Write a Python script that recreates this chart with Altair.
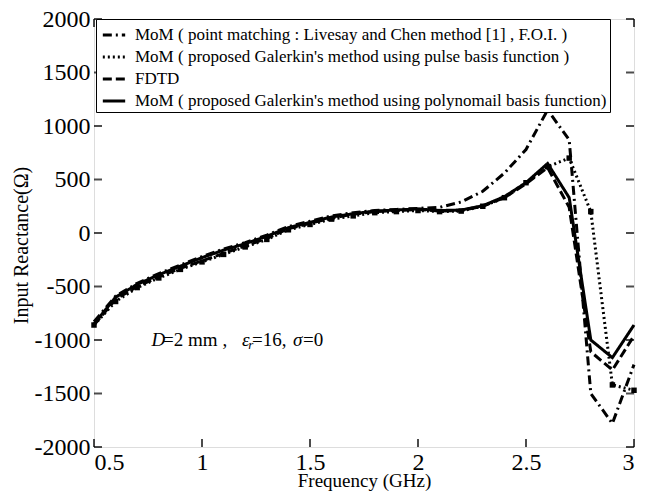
import altair as alt
import pandas as pd

freq = [0.5, 0.6, 0.7, 0.8, 0.9, 1.0, 1.1, 1.2, 1.3, 1.4, 1.5, 1.6, 1.7,
        1.8, 1.9, 2.0, 2.1, 2.2, 2.3, 2.4, 2.5, 2.6, 2.7, 2.8, 2.9, 3.0]
livesay = [-830, -590, -470, -380, -300, -220, -150, -90, -20, 60, 110, 160, 190,
           210, 220, 230, 240, 290, 390, 560, 780, 1150, 870, -1500, -1780, -1230]
pulse = [-860, -640, -510, -420, -340, -270, -200, -130, -60, 30, 80, 130, 160,
         190, 200, 210, 200, 205, 250, 330, 470, 620, 700, 200, -1420, -1470]
fdtd = [-860, -620, -500, -410, -330, -260, -190, -120, -50, 40, 90, 140, 175,
        200, 210, 220, 205, 210, 250, 330, 460, 610, 240, -1110, -1280, -960]
poly = [-850, -600, -480, -390, -310, -230, -160, -100, -30, 50, 100, 150, 180,
        205, 215, 225, 210, 215, 255, 340, 470, 650, 330, -1000, -1165, -860]

names = [
    "MoM ( point matching : Livesay and Chen method [1] , F.O.I. )",
    "MoM ( proposed Galerkin's method using pulse basis function )",
    "FDTD",
    "MoM ( proposed Galerkin's method using polynomail basis function)",
]
dashes = [[9, 4, 2, 4], [2, 3], [9, 4], [1, 0]]

x_ticks = [0.5, 1, 1.5, 2, 2.5, 3]
y_ticks = [-2000, -1500, -1000, -500, 0, 500, 1000, 1500, 2000]

# annotation "D=2 mm ,  εr=16, σ=0" split into upright / italic pieces
ann_norm_text = ["=2 mm ,", "=16,", "=0"]
ann_norm_x = [0.82, 1.232, 1.468]
ann_ital_text = ["D", "ε", "σ"]
ann_ital_x = [0.766, 1.185, 1.421]
ann_sub_text = ["r"]
ann_sub_x = [1.214]
ann_y = -1000
ann_sub_y = -1050

W, H = 540, 428
FONT = "Liberation Serif"

rows = []
for name, vals in zip(names, [livesay, pulse, fdtd, poly]):
    for f, v in zip(freq, vals):
        rows.append({"f": f, "v": v, "series": name})
df = pd.DataFrame(rows)

xs = alt.Scale(domain=[0.5, 3], nice=False, zero=False)
ys = alt.Scale(domain=[-2000, 2000], nice=False, zero=False)

xaxis = alt.Axis(values=x_ticks, labelExpr="'' + datum.value", labelFont=FONT,
                 labelFontSize=24, labelColor="black", labelPadding=3,
                 domain=False, ticks=False, grid=False, title="Frequency (GHz)",
                 titleFont=FONT, titleFontSize=19, titleFontWeight="normal",
                 titleColor="black", titlePadding=-3)
yaxis = alt.Axis(values=y_ticks, labelExpr="'' + datum.value", labelFont=FONT,
                 labelFontSize=24, labelColor="black", labelPadding=4,
                 domain=False, ticks=False, grid=False, title="Input Reactance(Ω)",
                 titleFont=FONT, titleFontSize=20, titleFontWeight="normal",
                 titleColor="black", titlePadding=3, titleY=226, labelFlush=False)

lines = alt.Chart(df).mark_line(color="black", strokeWidth=3).encode(
    x=alt.X("f:Q", scale=xs, axis=xaxis),
    y=alt.Y("v:Q", scale=ys, axis=yaxis),
    strokeDash=alt.StrokeDash(
        "series:N",
        scale=alt.Scale(domain=names, range=dashes),
        sort=names,
        legend=alt.Legend(
            title=None, orient="none", legendX=2, legendY=0,
            symbolType="stroke", symbolSize=500, symbolStrokeWidth=3,
            symbolStrokeColor="black", labelFont=FONT, labelFontSize=17,
            labelColor="black", labelLimit=1000, labelOffset=8,
            strokeColor="black", fillColor="white", padding=3,
            rowPadding=1, symbolOffset=2,
        ),
    ),
    order=alt.Order("f:Q"),
)

markers = alt.Chart(df).transform_filter(
    alt.datum.series == names[1]
).mark_point(shape="square", filled=True, color="black", size=30, opacity=1).encode(
    x=alt.X("f:Q", scale=xs),
    y=alt.Y("v:Q", scale=ys),
)

tx = pd.DataFrame({"t": x_ticks})
ty = pd.DataFrame({"t": y_ticks})
tick_b = alt.Chart(tx).mark_tick(color="black", thickness=2, size=8, orient="vertical").encode(
    x=alt.X("t:Q", scale=xs), y=alt.value(H - 4))
tick_t = alt.Chart(tx).mark_tick(color="black", thickness=2, size=8, orient="vertical").encode(
    x=alt.X("t:Q", scale=xs), y=alt.value(4))
tick_l = alt.Chart(ty).mark_tick(color="black", thickness=2, size=8, orient="horizontal").encode(
    y=alt.Y("t:Q", scale=ys), x=alt.value(4))
tick_r = alt.Chart(ty).mark_tick(color="black", thickness=2, size=8, orient="horizontal").encode(
    y=alt.Y("t:Q", scale=ys), x=alt.value(W - 4))

ann_n = alt.Chart(pd.DataFrame({"t": ann_norm_text, "x": ann_norm_x, "y": [ann_y] * 3})).mark_text(
    font=FONT, fontSize=19, align="left", baseline="middle", color="black").encode(
    x=alt.X("x:Q", scale=xs), y=alt.Y("y:Q", scale=ys), text="t:N")
ann_i = alt.Chart(pd.DataFrame({"t": ann_ital_text, "x": ann_ital_x, "y": [ann_y] * 3})).mark_text(
    font=FONT, fontSize=19, fontStyle="italic", align="left", baseline="middle", color="black").encode(
    x=alt.X("x:Q", scale=xs), y=alt.Y("y:Q", scale=ys), text="t:N")
ann_s = alt.Chart(pd.DataFrame({"t": ann_sub_text, "x": ann_sub_x, "y": [ann_sub_y]})).mark_text(
    font=FONT, fontSize=13, fontStyle="italic", align="left", baseline="middle", color="black").encode(
    x=alt.X("x:Q", scale=xs), y=alt.Y("y:Q", scale=ys), text="t:N")

chart = alt.layer(lines, markers, tick_b, tick_t, tick_l, tick_r, ann_n, ann_i, ann_s).properties(
    width=W, height=H,
    autosize=alt.AutoSizeParams(type="none"),
    padding={"left": 86, "top": 11, "right": 7, "bottom": 45},
).configure_view(stroke="black", strokeWidth=3).configure(background="white", font=FONT)

chart.save("out.html", embed_options={"renderer": "svg", "actions": False})
